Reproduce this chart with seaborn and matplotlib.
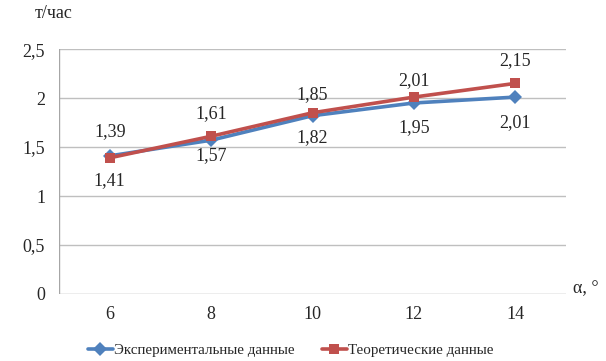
import numpy as np
import pandas as pd
import matplotlib
matplotlib.use("Agg")
import matplotlib.pyplot as plt
import seaborn as sns
from matplotlib.lines import Line2D

# data
angles = ["6", "8", "10", "12", "14"]
exp_vals = [1.41, 1.57, 1.82, 1.95, 2.01]
theor_vals = [1.39, 1.61, 1.85, 2.01, 2.15]
exp_name = "Экспериментальные данные"
theor_name = "Теоретические данные"

# label offsets in pixels (labels were placed by hand in the original)
exp_offs = [-25, -15, -22, -25, -25]
theor_offs = [26, 23, 18, 17, 23]

sns.set_style("white")
plt.rcParams["font.family"] = ["Liberation Serif", "DejaVu Serif"]

blue = "#4F81BD"
red = "#C0504D"

pos = np.arange(len(angles))
df = pd.DataFrame({
    "pos": np.concatenate([pos, pos]),
    "val": exp_vals + theor_vals,
    "series": [exp_name] * len(angles) + [theor_name] * len(angles),
})

fig = plt.figure(figsize=(6.06, 3.61), dpi=100)
ax = fig.add_axes([0.0974, 0.1856, 0.8366, 0.6784])

for s in ax.spines.values():
    s.set_visible(False)
for y in np.arange(0.5, 2.51, 0.5):
    ax.axhline(y, color="#BFBFBF", lw=1, zorder=0)

sns.lineplot(data=df, x="pos", y="val", hue="series", style="series",
             palette={exp_name: blue, theor_name: red},
             markers={exp_name: "D", theor_name: "s"}, dashes=False,
             markersize=7, linewidth=2.6, markeredgewidth=0, ax=ax,
             legend=False)

for x, v, o in zip(pos, exp_vals, exp_offs):
    ax.annotate(f"{v:.2f}".replace(".", ","), (x, v), xytext=(0, o),
                textcoords="offset pixels", ha="center", va="center", fontsize=13)
for x, v, o in zip(pos, theor_vals, theor_offs):
    ax.annotate(f"{v:.2f}".replace(".", ","), (x, v), xytext=(0, o),
                textcoords="offset pixels", ha="center", va="center", fontsize=13)

ax.set_xlim(-0.5, len(angles) - 0.5)
ax.set_ylim(0, 2.5)
ax.set_yticks(np.arange(0, 2.51, 0.5))
ax.set_yticklabels(["0", "0,5", "1", "1,5", "2", "2,5"], fontsize=13)
ax.set_xticks(pos)
ax.set_xticklabels(angles, fontsize=13)
ax.set_xticks(np.arange(-0.5, len(angles), 1), minor=True)
ax.tick_params(axis="x", which="major", length=0, pad=9)
ax.tick_params(axis="x", which="minor", length=5, color="#A6A6A6", direction="out")
ax.tick_params(axis="y", length=5, color="#A6A6A6", direction="out", pad=5)
ax.axvline(-0.5, color="#A6A6A6", lw=1)
ax.axhline(0, color="#A6A6A6", lw=1)
ax.set_xlabel("")
ax.set_ylabel("")

fig.text(0.058, 0.962, "т/час", fontsize=13, ha="left", va="center")
fig.text(0.945, 0.2, "α, °", fontsize=13, ha="left", va="center")

handles = [Line2D([], [], color=blue, lw=2.6, marker="D", markersize=7, markeredgewidth=0),
           Line2D([], [], color=red, lw=2.6, marker="s", markersize=7, markeredgewidth=0)]
fig.legend(handles, [exp_name, theor_name], loc="center", bbox_to_anchor=(0.48, 0.03),
           ncol=2, frameon=False, fontsize=10.8, handlelength=1.65, handletextpad=0.1,
           columnspacing=1.8)

fig.savefig("out.png", dpi=100)
